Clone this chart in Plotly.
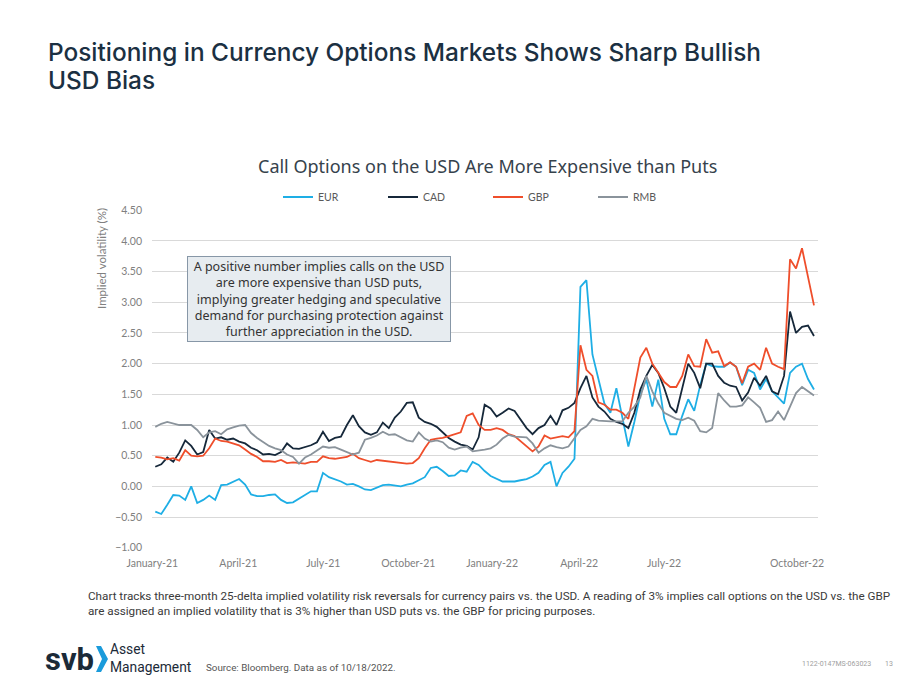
import plotly.graph_objects as go

# ---------------- data ----------------
eur = [-0.41, -0.45, -0.30, -0.14, -0.15, -0.22, 0.00, -0.27, -0.22, -0.15,
       -0.22, 0.02, 0.03, 0.07, 0.12, 0.03, -0.13, -0.16, -0.16, -0.14,
       -0.13, -0.22, -0.27, -0.26, -0.20, -0.14, -0.08, -0.08, 0.22, 0.15,
       0.12, 0.08, 0.03, 0.04, 0.00, -0.05, -0.06, -0.02, 0.02, 0.03,
       0.01, 0.00, 0.03, 0.05, 0.10, 0.15, 0.30, 0.32, 0.25, 0.17,
       0.18, 0.26, 0.24, 0.40, 0.35, 0.25, 0.17, 0.12, 0.08, 0.08,
       0.08, 0.10, 0.12, 0.16, 0.22, 0.35, 0.40, 0.00, 0.22, 0.32,
       0.45, 3.25, 3.36, 2.15, 1.74, 1.35, 1.20, 1.60, 1.12, 0.65,
       1.05, 1.50, 1.74, 1.30, 1.74, 1.10, 0.85, 0.85, 1.15, 1.42,
       1.23, 1.65, 2.00, 1.96, 1.95, 1.95, 2.02, 1.95, 1.65, 1.90,
       1.85, 1.58, 1.75, 1.55, 1.45, 1.35, 1.85, 1.95, 2.00, 1.75,
       1.58]
cad = [0.32, 0.36, 0.47, 0.40, 0.55, 0.75, 0.66, 0.52, 0.56, 0.92,
       0.78, 0.80, 0.76, 0.78, 0.73, 0.70, 0.63, 0.59, 0.52, 0.53,
       0.51, 0.56, 0.70, 0.62, 0.61, 0.64, 0.67, 0.72, 0.89, 0.74,
       0.79, 0.81, 1.00, 1.16, 0.98, 0.88, 0.84, 0.88, 1.04, 0.95,
       1.12, 1.22, 1.36, 1.37, 1.12, 1.05, 1.02, 0.97, 0.88, 0.79,
       0.73, 0.68, 0.66, 0.60, 0.80, 1.33, 1.27, 1.14, 1.20, 1.27,
       1.23, 1.10, 0.95, 0.85, 0.95, 1.00, 1.15, 1.00, 1.24, 1.28,
       1.36, 1.60, 1.80, 1.45, 1.30, 1.22, 1.10, 1.05, 1.02, 0.95,
       1.20, 1.58, 1.80, 1.98, 1.85, 1.60, 1.30, 1.20, 1.60, 2.00,
       1.85, 1.60, 2.00, 2.00, 1.80, 1.69, 1.64, 1.62, 1.40, 1.53,
       1.77, 1.64, 1.80, 1.55, 1.50, 1.80, 2.85, 2.50, 2.60, 2.62,
       2.45]
gbp = [0.48, 0.47, 0.44, 0.46, 0.42, 0.59, 0.50, 0.49, 0.50, 0.62,
       0.78, 0.74, 0.73, 0.70, 0.67, 0.60, 0.53, 0.48, 0.41, 0.41,
       0.40, 0.43, 0.38, 0.39, 0.38, 0.37, 0.40, 0.40, 0.49, 0.46,
       0.45, 0.46, 0.48, 0.53, 0.46, 0.43, 0.40, 0.43, 0.42, 0.41,
       0.39, 0.38, 0.37, 0.38, 0.46, 0.62, 0.76, 0.78, 0.79, 0.82,
       0.85, 0.88, 1.15, 1.19, 1.00, 0.92, 0.92, 0.95, 0.92, 0.85,
       0.82, 0.74, 0.65, 0.57, 0.65, 0.83, 0.78, 0.80, 0.82, 0.80,
       0.90, 2.30, 1.90, 1.80, 1.37, 1.33, 1.25, 1.25, 1.20, 1.10,
       1.60, 2.10, 2.26, 2.00, 1.85, 1.70, 1.62, 1.62, 1.80, 2.15,
       1.96, 1.95, 2.40, 2.18, 2.20, 1.96, 2.02, 1.95, 1.68, 1.95,
       2.00, 1.90, 2.26, 2.00, 1.95, 1.91, 3.70, 3.55, 3.88, 3.40,
       2.95]
rmb = [0.97, 1.02, 1.05, 1.02, 1.00, 1.00, 1.00, 0.92, 0.80, 0.88,
       0.90, 0.85, 0.93, 0.96, 0.99, 1.00, 0.87, 0.79, 0.72, 0.66,
       0.62, 0.59, 0.52, 0.48, 0.37, 0.47, 0.52, 0.58, 0.65, 0.63,
       0.64, 0.60, 0.56, 0.52, 0.55, 0.76, 0.79, 0.83, 0.89, 0.84,
       0.85, 0.80, 0.75, 0.73, 0.88, 0.78, 0.73, 0.75, 0.72, 0.63,
       0.60, 0.63, 0.65, 0.57, 0.58, 0.60, 0.62, 0.68, 0.78, 0.84,
       0.81, 0.81, 0.80, 0.70, 0.55, 0.62, 0.67, 0.64, 0.62, 0.65,
       0.78, 0.92, 0.98, 1.10, 1.07, 1.06, 1.06, 1.06, 1.06, 1.20,
       1.30, 1.45, 1.80, 1.55, 1.35, 1.20, 1.15, 1.10, 1.08, 1.12,
       1.07, 0.90, 0.88, 0.95, 1.52, 1.40, 1.30, 1.30, 1.32, 1.45,
       1.37, 1.28, 1.05, 1.08, 1.22, 1.08, 1.30, 1.52, 1.62, 1.55,
       1.48]
sample_idx = list(range(len(eur)))

series_names = ["EUR", "CAD", "GBP", "RMB"]
tick_pos = [-0.5, 13.86, 28.05, 42.24, 56.26, 70.78, 84.97, 107.18]
tick_text = ["January-21", "April-21", "July-21", "October-21",
             "January-22", "April-22", "July-22", "October-22"]
y_ticks = [-1.0, -0.5, 0.0, 0.5, 1.0, 1.5, 2.0, 2.5, 3.0, 3.5, 4.0, 4.5]

# ---------------- styling ----------------
colors = {"EUR": "#1EAEE5", "CAD": "#16283A", "GBP": "#EF4E2B", "RMB": "#8A939B"}
W, H = 920, 690
L, R, T, B = 152, 818, 210, 548


def px(xp):
    return (xp - L) / (R - L)


def py(yp):
    return (B - yp) / (B - T)


fig = go.Figure()
for name, vals in zip(series_names, [eur, cad, gbp, rmb]):
    fig.add_trace(go.Scatter(x=sample_idx, y=vals, mode="lines", name=name,
                             line=dict(color=colors[name], width=1.8)))

title_font = dict(family="Inter", size=24.4, color="#1B3042", weight=500)
annotations = []
# main title
annotations.append(dict(text="Positioning in Currency Options Markets Shows Sharp Bullish",
                        x=px(46), y=py(35), xref="paper", yref="paper",
                        xanchor="left", yanchor="top", showarrow=False, font=title_font))
annotations.append(dict(text="USD Bias",
                        x=px(46), y=py(63), xref="paper", yref="paper",
                        xanchor="left", yanchor="top", showarrow=False, font=title_font))
# chart title
annotations.append(dict(text="Call Options on the USD Are More Expensive than Puts",
                        x=px(488), y=py(166), xref="paper", yref="paper",
                        xanchor="center", yanchor="middle", showarrow=False,
                        font=dict(family="Noto Sans", size=18, color="#36424C")))
# y axis title
annotations.append(dict(text="Implied volatility (%)", textangle=-90,
                        x=px(101), y=py(259), xref="paper", yref="paper",
                        xanchor="center", yanchor="middle", showarrow=False,
                        font=dict(family="Lato", size=11.5, color="#808080")))
# note box
annotations.append(dict(text=("A positive number implies calls on the USD<br>"
                              "are more expensive than USD puts,<br>"
                              "implying greater hedging and speculative<br>"
                              "demand for purchasing protection against<br>"
                              "further appreciation in the USD."),
                        x=px(187), y=py(256), xref="paper", yref="paper",
                        xanchor="left", yanchor="top", showarrow=False,
                        width=262, height=84, align="center", valign="middle",
                        bgcolor="#E7ECF0", bordercolor="#8797A7", borderwidth=1,
                        borderpad=0,
                        font=dict(family="Noto Sans", size=12.5, color="#333333")))
# footnote
annotations.append(dict(text=("Chart tracks three-month 25-delta implied volatility risk reversals for currency pairs vs. the USD. "
                              "A reading of 3% implies call options on the USD vs. the GBP<br>"
                              "are assigned an implied volatility that is 3% higher than USD puts vs. the GBP for pricing purposes."),
                        x=px(86), y=py(587), xref="paper", yref="paper",
                        xanchor="left", yanchor="top", showarrow=False, align="left",
                        font=dict(family="Roboto", size=11.7, color="#3A3A3A")))
# logo text
annotations.append(dict(text="<b>svb</b>", x=px(43), y=py(659), xref="paper", yref="paper",
                        xanchor="left", yanchor="middle", showarrow=False,
                        font=dict(family="Roboto", size=31, color="#1B2A38")))
annotations.append(dict(text="Asset<br>Management", x=px(108), y=py(658), xref="paper", yref="paper",
                        xanchor="left", yanchor="middle", showarrow=False, align="left",
                        font=dict(family="Roboto", size=13.8, color="#1B2A38")))
annotations.append(dict(text="Source: Bloomberg. Data as of 10/18/2022.",
                        x=px(204), y=py(667), xref="paper", yref="paper",
                        xanchor="left", yanchor="middle", showarrow=False,
                        font=dict(family="Roboto", size=9.8, color="#555555")))
annotations.append(dict(text="1122-0147MS-063023",
                        x=px(873), y=py(664), xref="paper", yref="paper",
                        xanchor="right", yanchor="middle", showarrow=False,
                        font=dict(family="Roboto", size=7, color="#A0A0A0")))
annotations.append(dict(text="13",
                        x=px(895), y=py(664), xref="paper", yref="paper",
                        xanchor="right", yanchor="middle", showarrow=False,
                        font=dict(family="Roboto", size=7, color="#A0A0A0")))

# chevron of the logo
cx = [px(v) for v in (96, 101, 108, 101, 96, 102)]
cy = [py(v) for v in (646, 646, 659, 672, 672, 659)]
path = "M {} {} L {} {} L {} {} L {} {} L {} {} L {} {} Z".format(
    cx[0], cy[0], cx[1], cy[1], cx[2], cy[2], cx[3], cy[3], cx[4], cy[4], cx[5], cy[5])
shapes = [dict(type="path", path=path, xref="paper", yref="paper",
               fillcolor="#1A9BDB", line=dict(width=0))]

fig.update_layout(
    width=W, height=H,
    margin=dict(l=L, r=W - R, t=T, b=H - B, pad=0),
    paper_bgcolor="white", plot_bgcolor="white",
    showlegend=True,
    legend=dict(orientation="h", x=px(278), y=py(197), xanchor="left", yanchor="middle",
                font=dict(family="Lato", size=10.5, color="#595959"),
                itemwidth=30, entrywidth=60, entrywidthmode="pixels",
                bgcolor="rgba(0,0,0,0)"),
    xaxis=dict(range=[-0.55, 110.67], tickvals=tick_pos, ticktext=tick_text,
               showgrid=False, zeroline=False, showline=False, ticks="",
               ticklabelstandoff=7,
               tickfont=dict(family="Lato", size=10.5, color="#808080")),
    yaxis=dict(range=[-1.004, 4.504], tickvals=y_ticks, tickformat=".2f",
               showgrid=True, gridcolor="#D9D9D9", gridwidth=1,
               zeroline=False, showline=False, ticks="",
               ticklabelstandoff=9,
               tickfont=dict(family="Lato", size=10.5, color="#808080")),
    annotations=annotations,
    shapes=shapes,
)

fig.write_html("out.html")
